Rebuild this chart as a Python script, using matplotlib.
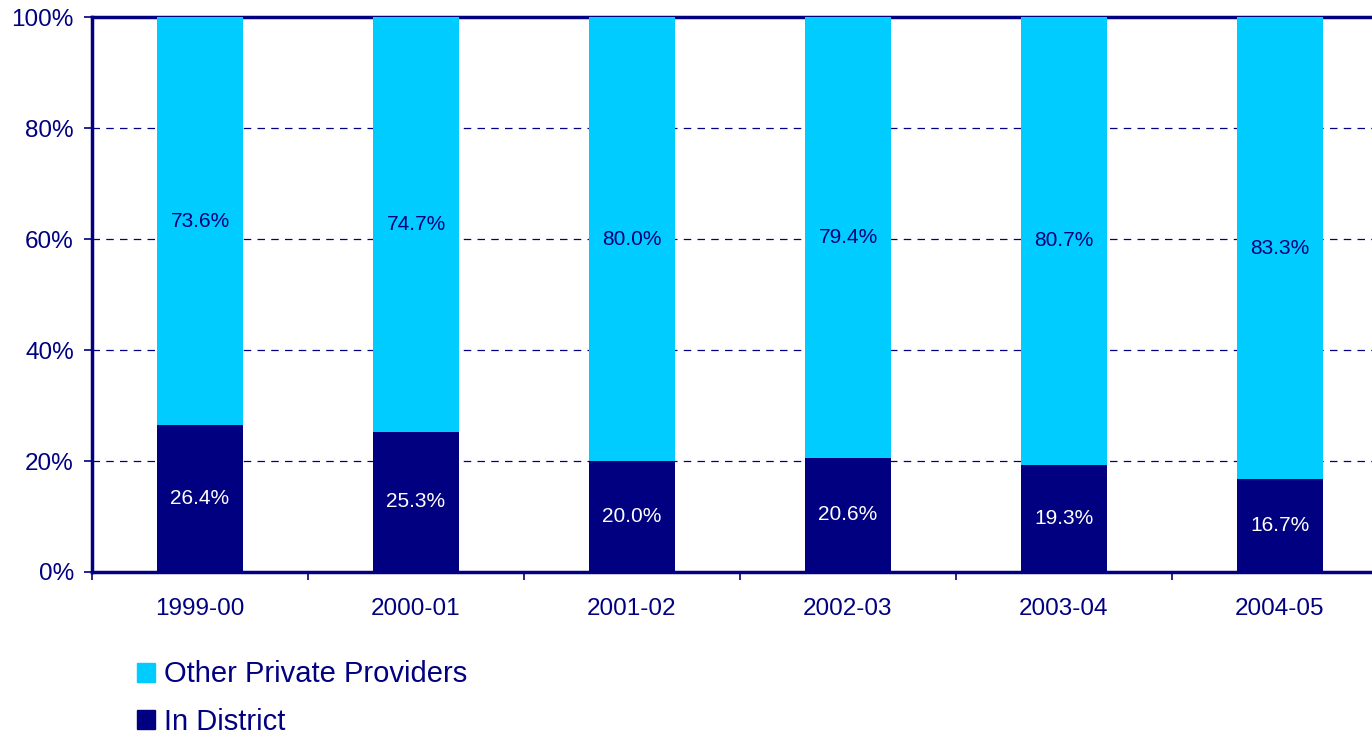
import numpy as np
import matplotlib
matplotlib.use("Agg")
import matplotlib.pyplot as plt
from matplotlib.patches import Patch

plt.rcParams["font.family"] = ["Liberation Sans", "DejaVu Sans"]

# Data
years = ["1999-00", "2000-01", "2001-02", "2002-03", "2003-04", "2004-05"]
in_district = [26.4, 25.3, 20.0, 20.6, 19.3, 16.7]
other_private = [73.6, 74.7, 80.0, 79.4, 80.7, 83.3]

navy = "#000080"
cyan = "#00CCFF"

fig = plt.figure(figsize=(13.72, 7.35), dpi=100)
ax = fig.add_axes([92 / 1372, 1 - 572 / 735, 1296 / 1372, 555 / 735])

x = np.arange(len(years))
w = 0.4
ax.bar(x, in_district, width=w, color=navy, zorder=3)
ax.bar(x, other_private, width=w, bottom=in_district, color=cyan, zorder=3)

# Segment labels
for i in range(len(years)):
    ax.text(x[i], in_district[i] / 2, f"{in_district[i]:.1f}%", ha="center", va="center",
            color="white", fontsize=15, zorder=4)
    ax.text(x[i], in_district[i] + other_private[i] / 2, f"{other_private[i]:.1f}%",
            ha="center", va="center", color=navy, fontsize=15, zorder=4)

ax.set_xlim(-0.5, len(years) - 0.5)
ax.set_ylim(0, 100)

ax.set_xticks(x)
ax.set_xticklabels(years)
ax.set_xticks(np.arange(-0.5, len(years)), minor=True)
ax.tick_params(axis="x", which="major", length=0, pad=19, labelsize=17.5, labelcolor=navy)
ax.tick_params(axis="x", which="minor", length=6, width=1.2, color=navy)

ax.set_yticks(np.arange(0, 101, 20))
ax.set_yticklabels([f"{v}%" for v in range(0, 101, 20)])
ax.tick_params(axis="y", length=6, width=1.2, color=navy, labelsize=17.5, labelcolor=navy, pad=7)

ax.yaxis.grid(True, linestyle=(0, (6, 5)), color=navy, linewidth=0.9, zorder=0)
ax.set_axisbelow(True)

for side in ["left", "bottom", "top"]:
    ax.spines[side].set_color(navy)
    ax.spines[side].set_linewidth(2.5)
ax.spines["right"].set_visible(False)

handles = [Patch(color=cyan, label="Other Private Providers"),
           Patch(color=navy, label="In District")]
fig.legend(handles=handles, loc="upper left", bbox_to_anchor=(114 / 1372, 1 - 637 / 735),
           frameon=False, fontsize=21, labelcolor=navy, handlelength=0.62, handleheight=0.62,
           handletextpad=0.3, labelspacing=0.66, borderpad=0.3)

fig.savefig("out.png", dpi=100)
plt.close(fig)
